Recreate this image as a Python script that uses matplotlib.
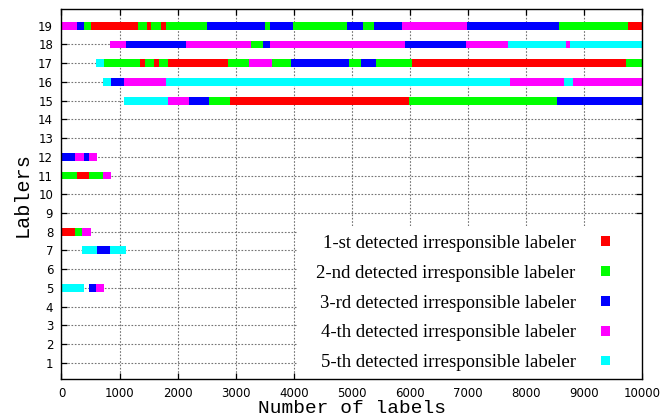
import matplotlib
matplotlib.use("Agg")
import matplotlib.pyplot as plt
from matplotlib.patches import Rectangle, Patch

# segment boundaries (number of labels) and colour codes per labeler
# r/g/b/m/c = 1st..5th detected irresponsible labeler, '-' = no bar
row19_edges = [0, 260, 380, 500, 1310, 1470, 1550, 1710, 1800, 2510, 3510, 3600,
               3990, 4920, 5200, 5390, 5870, 6990, 8570, 9760, 10000]
row19_codes = "mbgrgrgrgbgbgbgbmbgr"
row18_edges = [830, 1110, 2140, 3260, 3470, 3590, 5910, 6960, 7690, 8690, 8760, 10000]
row18_codes = "mbmgbmbmcmc"
row17_edges = [590, 740, 1350, 1430, 1590, 1680, 1830, 2870, 3230, 3630, 3950,
               4960, 5160, 5420, 6030, 9720, 10000]
row17_codes = "cgrgrgrgmgbgbgrg"
row16_edges = [710, 860, 1070, 1800, 7720, 8650, 8810, 10000]
row16_codes = "cbmcmcm"
row15_edges = [1070, 1830, 2190, 2540, 2900, 5990, 8530, 10000]
row15_codes = "cmbgrgb"
row12_edges = [0, 225, 380, 470, 620]
row12_codes = "bmbm"
row11_edges = [0, 260, 470, 710, 860]
row11_codes = "grgm"
row8_edges = [0, 225, 345, 500]
row8_codes = "rgm"
row7_edges = [345, 620, 830, 1110]
row7_codes = "cbc"
row5_edges = [0, 380, 470, 590, 740]
row5_codes = "c-bm"

rows = {19: (row19_edges, row19_codes), 18: (row18_edges, row18_codes),
        17: (row17_edges, row17_codes), 16: (row16_edges, row16_codes),
        15: (row15_edges, row15_codes), 12: (row12_edges, row12_codes),
        11: (row11_edges, row11_codes), 8: (row8_edges, row8_codes),
        7: (row7_edges, row7_codes), 5: (row5_edges, row5_codes)}

legend_labels = ["1-st detected irresponsible labeler",
                 "2-nd detected irresponsible labeler",
                 "3-rd detected irresponsible labeler",
                 "4-th detected irresponsible labeler",
                 "5-th detected irresponsible labeler"]
palette = {"r": "#ff0000", "g": "#00ff00", "b": "#0000ff", "m": "#ff00ff", "c": "#00ffff"}

fig = plt.figure(figsize=(6.62, 4.18), dpi=100)
ax = fig.add_axes([0.0929, 0.0933, 0.8769, 0.8845])

bar_h = 0.42
for y, (edges, codes) in rows.items():
    xr, cols = [], []
    for i, c in enumerate(codes):
        if c == "-":
            continue
        xr.append((edges[i], edges[i + 1] - edges[i]))
        cols.append(palette[c])
    ax.broken_barh(xr, (y - bar_h / 2, bar_h), facecolors=cols, edgecolor="none", zorder=3)

ax.set_xlim(0, 10000)
ax.set_ylim(0.13, 19.88)
ax.set_xticks(range(0, 10001, 1000))
ax.set_yticks(range(1, 20))
ax.grid(True, color="0.45", linestyle=(0, (1.5, 1.5)), linewidth=0.8, zorder=1)
ax.set_axisbelow(True)
ax.tick_params(direction="in", length=4, width=0.9, top=True, right=True,
               labelsize=8.5, pad=6)
for s in ax.spines.values():
    s.set_linewidth(1.0)
    s.set_zorder(5)

ax.set_xlabel("Number of labels", family="Liberation Mono", fontsize=14, labelpad=0)
ax.set_ylabel("Lablers", family="Liberation Mono", fontsize=14.5, labelpad=5)

# white legend box covering the grid
ax.add_patch(Rectangle((0.407, 0), 0.593, 0.414, transform=ax.transAxes,
                       facecolor="white", edgecolor="none", zorder=4))
handles = [Patch(facecolor=palette[c], edgecolor="none") for c in "rgbmc"]
leg = ax.legend(handles, legend_labels, loc="lower right", bbox_to_anchor=(0.968, -0.015),
                frameon=False, markerfirst=False, handlelength=0.5, handleheight=0.4,
                handletextpad=1.35, labelspacing=0.69, borderpad=0.2,
                prop={"family": "Liberation Serif", "size": 13.5})
leg.set_zorder(6)

fig.savefig("out.png", dpi=100)
